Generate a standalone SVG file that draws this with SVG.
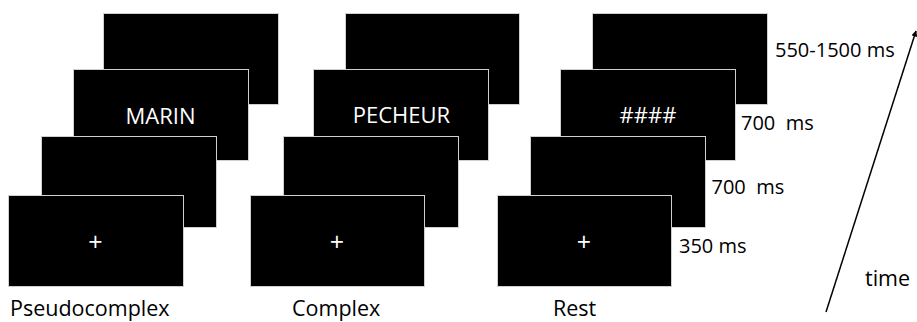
<svg xmlns="http://www.w3.org/2000/svg" width="917" height="322" viewBox="0 0 917 322">
<style>
.scr{fill:#000;stroke:#cfcfcf;stroke-width:1}
.st{font-family:"Open Sans","Liberation Sans",sans-serif;font-size:22px;fill:#fff;text-anchor:middle}
.pl{font-family:"Open Sans","Liberation Sans",sans-serif;font-size:25px;fill:#fff;text-anchor:middle}
.lb{font-family:"Open Sans","Liberation Sans",sans-serif;font-size:20px;fill:#000}
.cap{font-family:"Open Sans","Liberation Sans",sans-serif;font-size:21.5px;fill:#000}
</style>
<defs>
<marker id="ah" viewBox="0 0 10 10" refX="9" refY="5" markerWidth="4" markerHeight="4" orient="auto" markerUnits="strokeWidth">
<path d="M0,0 L10,5 L0,10 z" fill="#000"/>
</marker>
</defs>
<g id="pseudocomplex">
<rect class="scr" x="103.5" y="13.5" width="175" height="91"/>
<rect class="scr" x="73.5" y="69.5" width="175" height="91"/>
<text class="st" x="160.5" y="124">MARIN</text>
<rect class="scr" x="41.5" y="136.5" width="175" height="91"/>
<rect class="scr" x="8.5" y="195.5" width="175" height="91"/>
<text class="pl" x="95.5" y="250.5">+</text>
<text class="cap" x="10" y="316">Pseudocomplex</text>
</g>
<g id="complex">
<rect class="scr" x="345.5" y="13.5" width="174" height="91"/>
<rect class="scr" x="313.5" y="69.5" width="175" height="91"/>
<text class="st" x="401.5" y="123">PECHEUR</text>
<rect class="scr" x="283.5" y="136.5" width="175" height="91"/>
<rect class="scr" x="250.5" y="195.5" width="174" height="91"/>
<text class="pl" x="337" y="250.5">+</text>
<text class="cap" x="292" y="316">Complex</text>
</g>
<g id="rest">
<rect class="scr" x="592.5" y="13.5" width="175" height="91"/>
<rect class="scr" x="560.5" y="69.5" width="175" height="91"/>
<text class="st" x="648" y="123">####</text>
<rect class="scr" x="530.5" y="136.5" width="175" height="91"/>
<rect class="scr" x="497.5" y="195.5" width="174" height="91"/>
<text class="pl" x="584" y="250.5">+</text>
<text class="cap" x="553" y="316">Rest</text>
</g>
<g id="durations">
<text class="lb" x="775" y="57">550-1500 ms</text>
<text class="lb" x="741" y="130" xml:space="preserve">700  ms</text>
<text class="lb" x="711.5" y="193.5" xml:space="preserve">700  ms</text>
<text class="lb" x="679" y="252.5">350 ms</text>
<text class="cap" x="865" y="285.5">time</text>
</g>
<g id="connectors">
<line x1="826" y1="312" x2="916" y2="31" stroke="#000" stroke-width="1.5" marker-end="url(#ah)"/>
</g>
</svg>
